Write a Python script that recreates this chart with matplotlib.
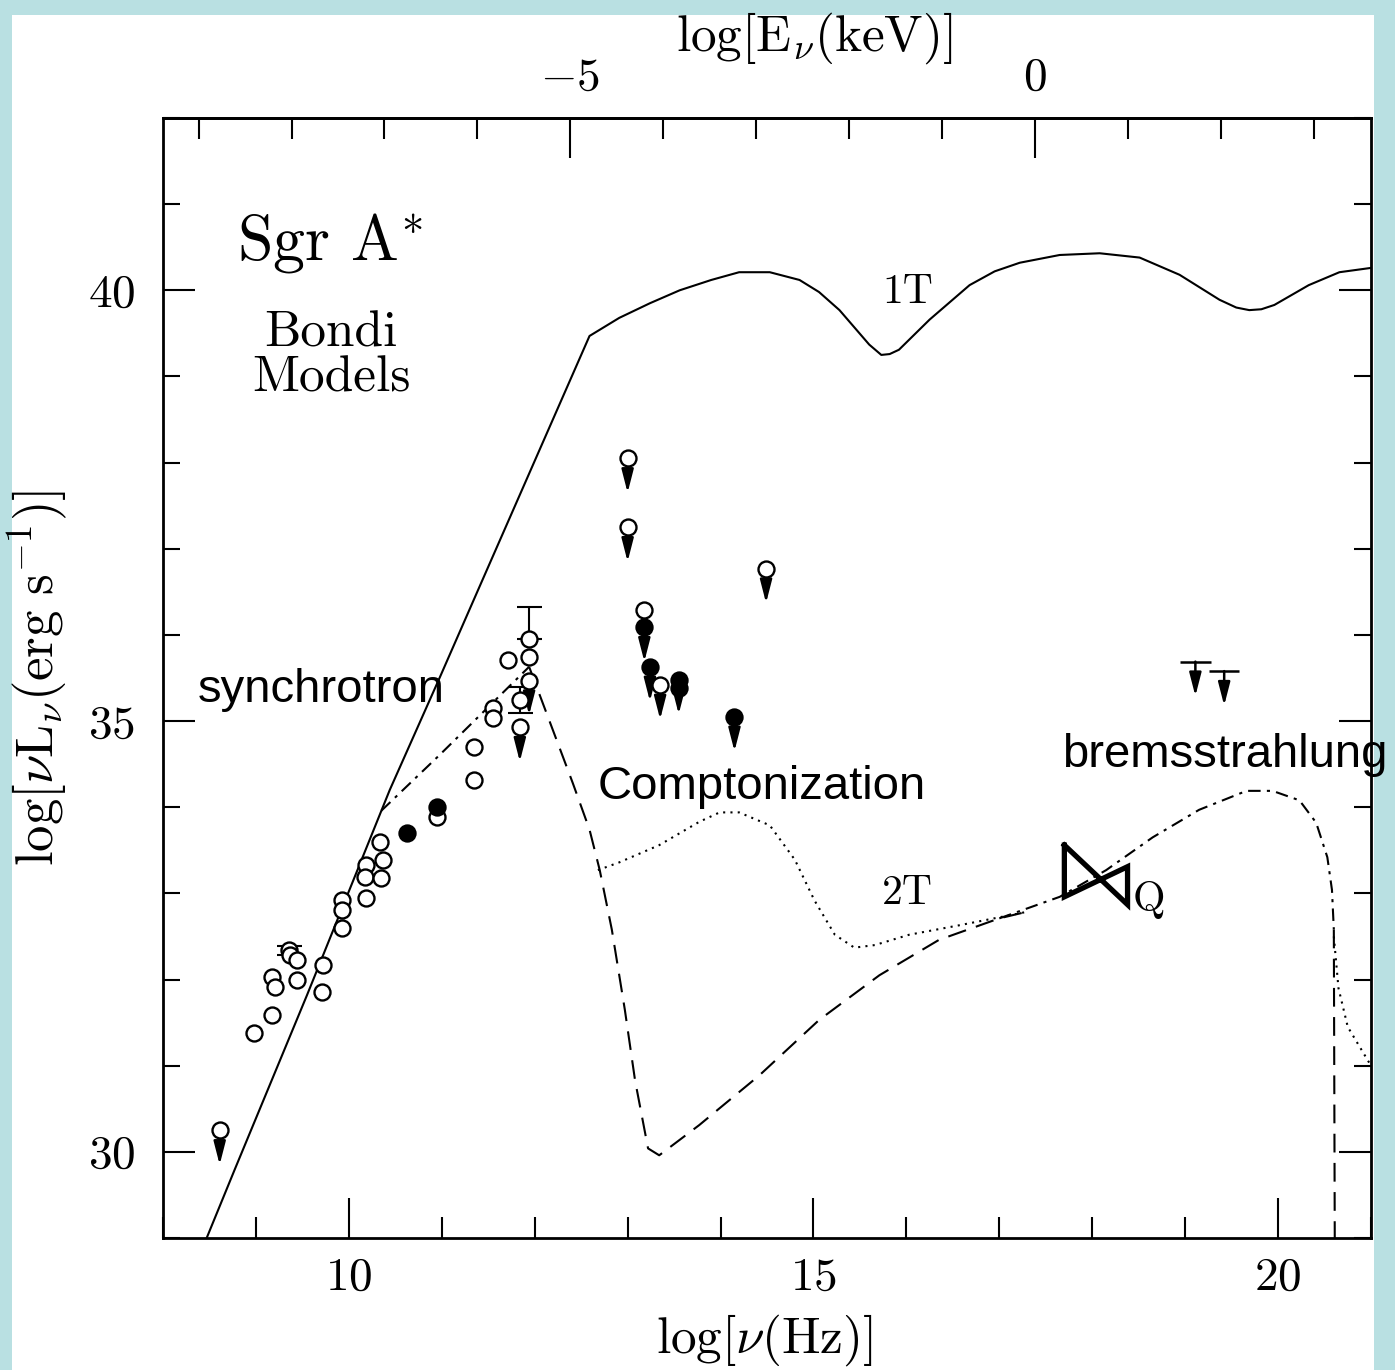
import matplotlib
matplotlib.use("Agg")
import matplotlib.pyplot as plt
from matplotlib.patches import Rectangle
from matplotlib.ticker import MultipleLocator, FixedLocator, FuncFormatter

plt.rcParams["mathtext.fontset"] = "cm"
plt.rcParams["font.family"] = ["cmr10", "DejaVu Serif"]
plt.rcParams["axes.unicode_minus"] = False

# ---- model curves (log nu [Hz], log nuL_nu [erg/s]) ----
one_t_x = [8.47, 8.77, 9.55, 10.44, 10.98, 11.39, 12.59, 12.91, 13.24, 13.56, 13.9, 14.2,
           14.53, 14.85, 15.06, 15.28, 15.6, 15.73, 15.82, 15.92, 16.25, 16.68, 16.95,
           17.22, 17.65, 18.08, 18.51, 18.94, 19.37, 19.55, 19.69, 19.82, 19.96, 20.33,
           20.66, 21.0]
one_t_y = [29.0, 29.79, 31.82, 34.2, 35.51, 36.52, 39.47, 39.68, 39.85, 40.0, 40.12, 40.21,
           40.21, 40.12, 39.98, 39.77, 39.37, 39.25, 39.26, 39.31, 39.66, 40.06, 40.22,
           40.32, 40.41, 40.43, 40.38, 40.18, 39.89, 39.8, 39.77, 39.78, 39.83, 40.06,
           40.21, 40.26]

# synchrotron fall + 2T without Comptonization (dashed)
dash_x = [11.94, 12.41, 12.59, 12.7, 12.83, 12.97, 13.08, 13.22, 13.34, 13.77,
          14.42, 15.06, 15.71, 16.35, 17.0, 17.27]
dash_y = [35.63, 34.28, 33.74, 33.27, 32.58, 31.65, 30.83, 30.04, 29.96, 30.31,
          30.89, 31.53, 32.05, 32.46, 32.71, 32.78]
cut_x = [20.6, 20.61]
cut_y = [32.58, 29.0]

# Comptonization bump (dotted)
comp_x = [12.68, 12.91, 13.34, 13.77, 13.99, 14.2, 14.53, 14.8, 15.01, 15.23,
          15.44, 15.66, 16.03, 16.57, 17.27]
comp_y = [33.27, 33.36, 33.56, 33.83, 33.94, 33.94, 33.79, 33.39, 32.92, 32.52,
          32.37, 32.4, 32.52, 32.63, 32.78]
tail_x = [20.6, 20.65, 20.75, 21.0]
tail_y = [32.5, 31.9, 31.45, 31.0]

# synchrotron rise and bremsstrahlung (dash-dot)
sync_x = [10.35, 10.98, 11.94]
sync_y = [33.96, 34.61, 35.63]
brem_x = [17.0, 17.65, 18.15, 18.65, 19.15, 19.66, 19.94, 20.23, 20.41, 20.53, 20.58, 20.6]
brem_y = [32.71, 32.96, 33.27, 33.65, 33.97, 34.19, 34.19, 34.08, 33.82, 33.42, 33.04, 32.58]

# ---- observations ----
open_x = [8.98, 9.17, 9.17, 9.2, 9.36, 9.37, 9.44, 9.44, 9.72, 9.71, 9.93, 9.93, 9.93,
          10.18, 10.17, 10.18, 10.34, 10.37, 10.35, 10.95, 11.35, 11.35, 11.55, 11.55,
          11.71, 11.84, 11.94, 11.94, 13.18]
open_y = [31.38, 31.59, 32.03, 31.91, 32.34, 32.29, 32.23, 31.99, 32.17, 31.86, 32.92,
          32.81, 32.6, 33.33, 33.19, 32.95, 33.6, 33.39, 33.18, 33.89, 34.7, 34.32,
          35.15, 35.03, 35.71, 35.24, 35.95, 35.74, 36.29]
filled_x = [10.63, 10.95, 13.55]
filled_y = [33.7, 34.0, 35.38]

ul_open_x = [8.61, 11.84, 11.94, 13.0, 13.0, 13.35, 14.49]
ul_open_y = [30.25, 34.93, 35.47, 38.05, 37.25, 35.42, 36.77]
ul_fill_x = [13.18, 13.24, 13.55, 14.15]
ul_fill_y = [36.09, 35.63, 35.48, 35.05]

err_x = [11.94, 11.84, 9.36]
err_y = [35.95, 35.24, 32.34]
err_lo = [0.0, 0.15, 0.05]
err_hi = [0.37, 0.15, 0.05]

xray_ul_x = [19.11, 19.42]
xray_ul_y = [35.69, 35.58]
xray_ul_dx = [0.17, 0.16]

# Chandra quiescent bow-tie
bow_x = [17.7, 18.38, 18.38, 17.7, 17.7]
bow_y = [33.56, 32.87, 33.31, 32.96, 33.56]

kev_major = [-5, 0]
kev_minor = [-9, -8, -7, -6, -4, -3, -2, -1, 1, 2, 3]

UL_LEN = 0.4
NU_TO_KEV = 17.383

fig = plt.figure(figsize=(13.95, 13.70), dpi=100)
fig.patch.set_facecolor("#b9e0e2")
fig.patches.append(Rectangle((12 / 1395, 0), 1362 / 1395, 1355 / 1370,
                             transform=fig.transFigure, facecolor="white",
                             edgecolor="none", zorder=-10))
ax = fig.add_axes([163 / 1395, 1 - 1238 / 1370, 1208 / 1395, 1120 / 1370])
ax.set_facecolor("white")

lw = 1.5
ax.plot(one_t_x, one_t_y, color="k", lw=lw)
ax.plot(dash_x, dash_y, color="k", lw=lw, dashes=(9, 5))
ax.plot(cut_x, cut_y, color="k", lw=lw, dashes=(9, 5))
ax.plot(comp_x, comp_y, color="k", lw=lw, dashes=(1, 2.5))
ax.plot(tail_x, tail_y, color="k", lw=lw, dashes=(1, 2.5))
ax.plot(sync_x, sync_y, color="k", lw=lw, dashes=(6, 3, 1.5, 3))
ax.plot(brem_x, brem_y, color="k", lw=lw, dashes=(6, 3, 1.5, 3))

# upper-limit arrows
arrow = dict(arrowstyle="-|>,head_length=0.7,head_width=0.18", lw=1.8, color="k",
             mutation_scale=20, shrinkA=0, shrinkB=0)
for xs, ys in [(ul_open_x, ul_open_y), (ul_fill_x, ul_fill_y)]:
    for x, y in zip(xs, ys):
        ax.annotate("", xy=(x, y - UL_LEN), xytext=(x, y), arrowprops=arrow, zorder=3)

ax.errorbar(err_x, err_y, yerr=[err_lo, err_hi], fmt="none", ecolor="k",
            elinewidth=1.5, capsize=9, capthick=1.5, zorder=3)

ms = 11.5
ax.plot(open_x, open_y, "o", ms=ms, mfc="white", mec="k", mew=1.7, zorder=4)
ax.plot(ul_open_x, ul_open_y, "o", ms=ms, mfc="white", mec="k", mew=1.7, zorder=4)
ax.plot(filled_x, filled_y, "o", ms=ms, mfc="k", mec="k", mew=1.7, zorder=4)
ax.plot(ul_fill_x, ul_fill_y, "o", ms=ms, mfc="k", mec="k", mew=1.7, zorder=4)

# X-ray upper limits
ax.errorbar(xray_ul_x, xray_ul_y, xerr=xray_ul_dx, fmt="none", ecolor="k",
            elinewidth=1.8, capsize=0)
for x, y in zip(xray_ul_x, xray_ul_y):
    ax.annotate("", xy=(x, y - UL_LEN), xytext=(x, y), arrowprops=arrow)

ax.plot(bow_x, bow_y, color="k", lw=3.8, solid_joinstyle="miter")

# annotations
ax.text(9.8, 40.55, r"Sgr $\mathrm{A}^{*}$", fontsize=46, ha="center", va="center")
ax.text(9.81, 39.5, "Bondi", fontsize=37, ha="center", va="center")
ax.text(9.81, 38.98, "Models", fontsize=37, ha="center", va="center")
ax.text(16.01, 39.98, "1T", fontsize=30, ha="center", va="center")
ax.text(16.01, 33.0, "2T", fontsize=30, ha="center", va="center")
ax.text(18.61, 32.92, "Q", fontsize=30, ha="center", va="center")

sans = ["Liberation Sans", "DejaVu Sans"]
ax.text(8.376, 35.36, "synchrotron", fontsize=34, family=sans, ha="left", va="center")
ax.text(12.68, 34.235, "Comptonization", fontsize=34, family=sans, ha="left", va="center")
ax.text(17.68, 34.61, "bremsstrahlung", fontsize=34, family=sans, ha="left", va="center",
        clip_on=False)

ax.set_xlim(8, 21)
ax.set_ylim(29, 42)

fmt = FuncFormatter(lambda v, p: f"${v:g}$")
ax.xaxis.set_major_locator(MultipleLocator(5))
ax.xaxis.set_minor_locator(MultipleLocator(1))
ax.yaxis.set_major_locator(MultipleLocator(5))
ax.yaxis.set_minor_locator(MultipleLocator(1))
ax.xaxis.set_major_formatter(fmt)
ax.yaxis.set_major_formatter(fmt)
ax.tick_params(axis="x", which="both", direction="in", top=False, bottom=True,
               labelsize=34, pad=14, width=1.5)
ax.tick_params(axis="x", which="major", length=29)
ax.tick_params(axis="x", which="minor", length=15)
ax.tick_params(axis="y", which="both", direction="in", left=True, right=True,
               labelsize=34, pad=20, width=1.5)
ax.tick_params(axis="y", which="major", length=23)
ax.tick_params(axis="y", which="minor", length=12)
for s in ax.spines.values():
    s.set_linewidth(2.0)

secax = ax.secondary_xaxis("top", functions=(lambda x: x - NU_TO_KEV,
                                             lambda e: e + NU_TO_KEV))
secax.xaxis.set_major_locator(FixedLocator(kev_major))
secax.xaxis.set_minor_locator(FixedLocator(kev_minor))
secax.xaxis.set_major_formatter(fmt)
secax.tick_params(axis="x", which="both", direction="in", labelsize=34, pad=14, width=1.5)
secax.tick_params(axis="x", which="major", length=29)
secax.tick_params(axis="x", which="minor", length=15)
secax.spines["top"].set_linewidth(2.0)

ax.set_xlabel(r"$\log[\nu({\rm Hz})]$", fontsize=37)
ax.xaxis.set_label_coords(0.498, -0.091)
ax.xaxis.label.set_va("center")
ax.set_ylabel(r"$\log[\nu{\rm L}_\nu({\rm erg\ s^{-1}})]$", fontsize=38)
ax.yaxis.set_label_coords(-0.104, 0.5)
ax.yaxis.label.set_va("center")
secax.set_xlabel(r"$\log[{\rm E}_\nu({\rm keV})]$", fontsize=37)
secax.xaxis.set_label_coords(0.539, 1.0714, transform=ax.transAxes)
secax.xaxis.label.set_va("center")

fig.savefig("out.png", dpi=100, facecolor=fig.get_facecolor())
